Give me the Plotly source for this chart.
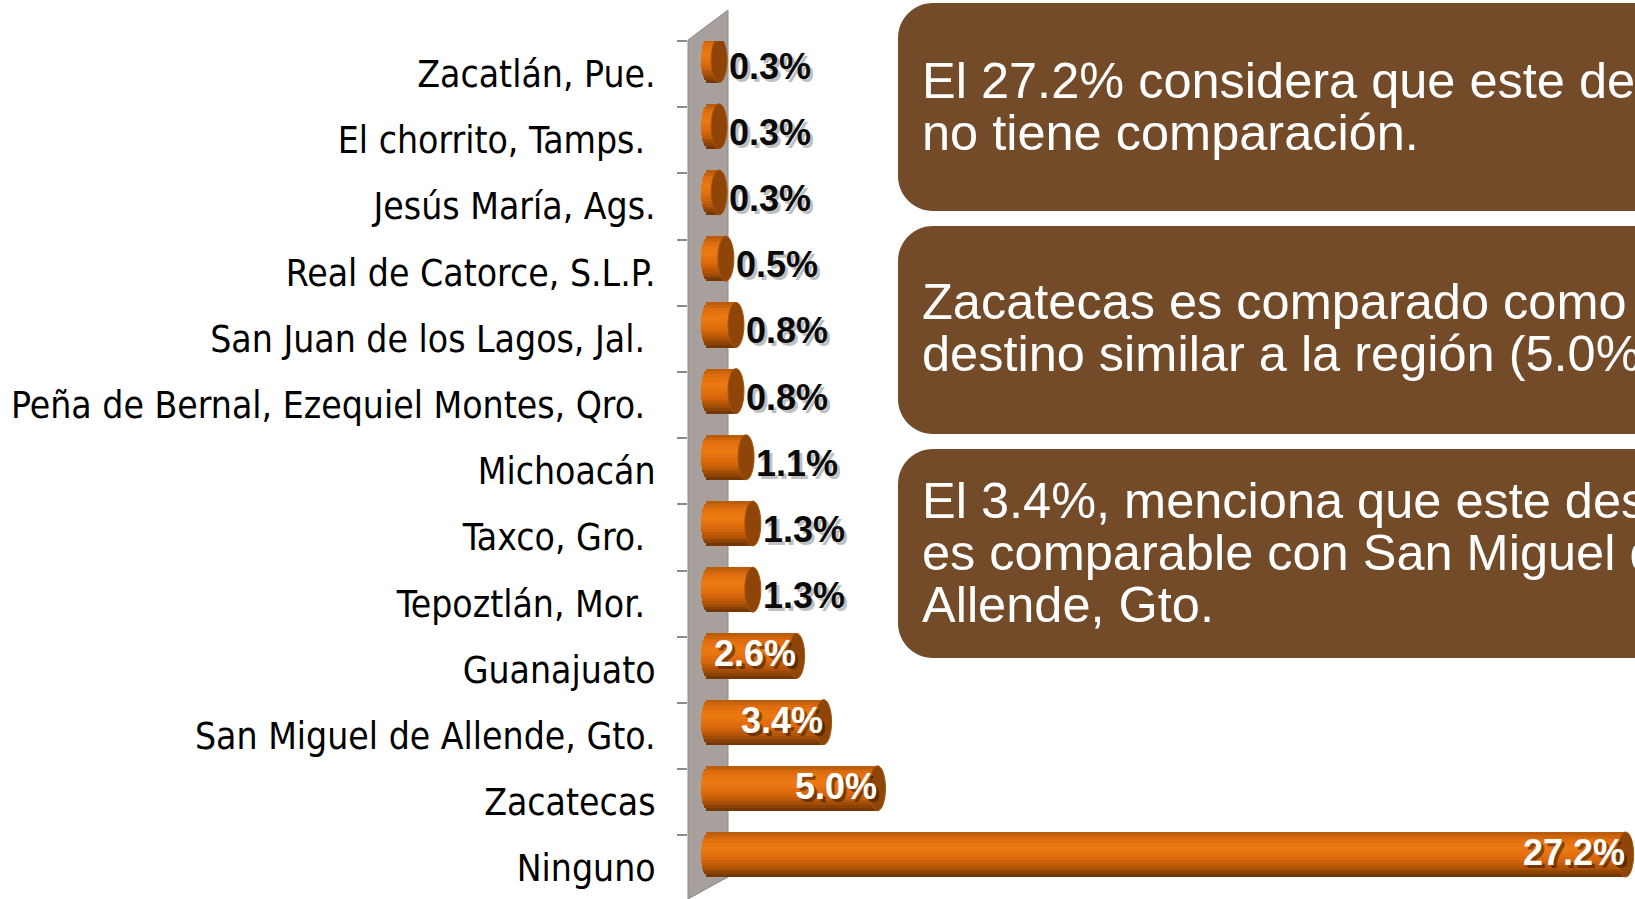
import math
import plotly.graph_objects as go

# ---------------- data ----------------
categories = [
    "Zacatlán, Pue.",
    "El chorrito, Tamps.\u00a0",
    "Jesús María, Ags.",
    "Real de Catorce, S.L.P.",
    "San Juan de los Lagos, Jal.\u00a0",
    "Peña de Bernal, Ezequiel Montes, Qro.\u00a0",
    "Michoacán",
    "Taxco, Gro.\u00a0",
    "Tepoztlán, Mor.\u00a0",
    "Guanajuato",
    "San Miguel de Allende, Gto.",
    "Zacatecas",
    "Ninguno",
]
values = [0.3, 0.3, 0.3, 0.5, 0.8, 0.8, 1.1, 1.3, 1.3, 2.6, 3.4, 5.0, 27.2]
value_labels = [f"{v:.1f}%" for v in values]

box1_lines = ["El 27.2% considera que este destino", "no tiene comparación."]
box2_lines = ["Zacatecas es comparado como", "destino similar a la región (5.0%)."]
box3_lines = ["El 3.4%, menciona que este destino", "es comparable con San Miguel de", "Allende, Gto."]

# ---------------- layout geometry ----------------
W, H = 1635, 899
ML, MT = 688, 41
PW, PH = W - ML, H - MT
PX_PER_UNIT = 33.7      # px per 1 %
ZERO_PX = 709           # pixel of value 0
CAT_PX = 66.2           # px per category
x_range = [(ML - ZERO_PX) / PX_PER_UNIT, (W - ZERO_PX) / PX_PER_UNIT]
y_range = [-0.5 + PH / CAT_PX, -0.5]

SHIFT = 14 / CAT_PX     # 3D perspective shift of bars upward
HALF = 22.5 / CAT_PX    # half bar thickness
RX = 8 / PX_PER_UNIT    # ellipse radius of cylinder caps
INSIDE_MIN = 2.0


def to_paper(px, py):
    return (px - ML) / PW, (H - py) / PH


idx = list(range(len(categories)))
fig = go.Figure()

# cylinder body as gradient stripes
stops = [(-1.0, (180, 89, 10)), (-0.65, (226, 111, 14)), (-0.25, (237, 122, 18)),
         (0.25, (217, 103, 11)), (0.65, (168, 79, 6)), (1.0, (106, 51, 4))]


def color_at(t):
    for (t0, c0), (t1, c1) in zip(stops[:-1], stops[1:]):
        if t0 <= t <= t1:
            f = (t - t0) / (t1 - t0)
            return "rgb(%d,%d,%d)" % tuple(round(a + (b - a) * f) for a, b in zip(c0, c1))
    return "rgb(%d,%d,%d)" % stops[-1][1]


N = 16
for k in range(N):
    t0 = -1 + 2 * k / N
    tm = t0 + 1 / N
    e = RX * math.sqrt(max(0.0, 1 - tm * tm))
    fig.add_trace(go.Bar(
        y=idx, x=[v + e for v in values], base=[-e] * len(values),
        orientation="h", offset=-SHIFT + t0 * HALF, width=2 * HALF / N + 0.004,
        marker=dict(color=color_at(tm), line=dict(width=0)),
        hoverinfo="skip", showlegend=False,
    ))

shapes = []
# side wall of the 3D chart
wall = [to_paper(688, 40), to_paper(728, 10), to_paper(728, 877), to_paper(688, 899)]
shapes.append(dict(
    type="path", xref="paper", yref="paper", layer="below",
    path="M " + " L ".join(f"{x},{y}" for x, y in wall) + " Z",
    fillcolor="#A7A09D", line=dict(color="#8F8986", width=1),
))

# end caps
for i, v in zip(idx, values):
    c = i - SHIFT
    shapes.append(dict(
        type="circle", xref="x", yref="y", layer="above",
        x0=v - RX, x1=v + RX, y0=c - HALF, y1=c + HALF,
        fillcolor="#8E4507", line=dict(color="#A8560C", width=1),
    ))


# rounded brown boxes
def rrect(x0, y0, x1, y1, r):
    k = 0.5523 * r
    pts = []
    P = lambda x, y: "%.5f,%.5f" % to_paper(x, y)
    pts.append("M " + P(x0 + r, y0))
    pts.append("L " + P(x1 - r, y0))
    pts.append("C " + P(x1 - r + k, y0) + " " + P(x1, y0 + r - k) + " " + P(x1, y0 + r))
    pts.append("L " + P(x1, y1 - r))
    pts.append("C " + P(x1, y1 - r + k) + " " + P(x1 - r + k, y1) + " " + P(x1 - r, y1))
    pts.append("L " + P(x0 + r, y1))
    pts.append("C " + P(x0 + r - k, y1) + " " + P(x0, y1 - r + k) + " " + P(x0, y1 - r))
    pts.append("L " + P(x0, y0 + r))
    pts.append("C " + P(x0, y0 + r - k) + " " + P(x0 + r - k, y0) + " " + P(x0 + r, y0))
    return " ".join(pts) + " Z"


boxes = [((3, 211), box1_lines, [98, 150]),
         ((226, 434), box2_lines, [319, 371]),
         ((449, 658), box3_lines, [518, 570, 622])]
BOX_COLOR = "#734B28"
annotations = []
for (by0, by1), lines, baselines in boxes:
    shapes.append(dict(type="path", xref="paper", yref="paper", layer="above",
                       path=rrect(898, by0, 1720, by1, 35),
                       fillcolor=BOX_COLOR, line=dict(width=0)))
    for line, bl in zip(lines, baselines):
        ax, ay = to_paper(920, bl - 17.5)
        annotations.append(dict(
            xref="paper", yref="paper", x=ax, y=ay, xanchor="left", yanchor="middle",
            text=line, showarrow=False,
            font=dict(family="Liberation Sans, Arial", size=50.5, color="white"),
        ))

# value labels with drop shadows
LBL_FONT = "Liberation Sans, Arial"
for i, v, t in zip(idx, values, value_labels):
    if v < INSIDE_MIN:
        base = dict(x=v, y=i, xref="x", yref="y", xanchor="left", yanchor="middle",
                    xshift=8, yshift=8)
        col, shadow = "#0A0A0A", "rgba(0,0,0,0.25)"
    else:
        base = dict(x=v, y=i - SHIFT, xref="x", yref="y", xanchor="right", yanchor="middle",
                    xshift=1, yshift=2)
        col, shadow = "#FFFFFF", "rgba(40,20,0,0.5)"
    sh = dict(base)
    sh["xshift"] = base["xshift"] + 3
    sh["yshift"] = base["yshift"] - 3
    annotations.append(dict(sh, text=f"<b>{t}</b>", showarrow=False,
                            font=dict(family=LBL_FONT, size=36, color=shadow)))
    annotations.append(dict(base, text=f"<b>{t}</b>", showarrow=False,
                            font=dict(family=LBL_FONT, size=36, color=col)))

fig.update_layout(
    width=W, height=H,
    margin=dict(l=ML, r=0, t=MT, b=0, pad=0),
    paper_bgcolor="white", plot_bgcolor="rgba(0,0,0,0)",
    barmode="overlay", bargap=0,
    showlegend=False,
    shapes=shapes, annotations=annotations,
    xaxis=dict(range=x_range, visible=False, showgrid=False, zeroline=False, fixedrange=True),
    yaxis=dict(
        range=y_range, tickmode="array", tickvals=idx, ticktext=categories,
        ticks="outside", ticklen=10, tickcolor="rgba(0,0,0,0)",
        ticklabelstandoff=14,
        minor=dict(tickmode="array", tickvals=[i - 0.5 for i in idx], ticks="outside",
                   ticklen=10, tickcolor="#8A8A8A", tickwidth=1.5, showgrid=False),
        showgrid=False, zeroline=False, showline=False, automargin=False,
        tickfont=dict(family="DejaVu Sans Condensed, DejaVu Sans", size=37, color="#000000"),
        fixedrange=True,
    ),
    template="none",
)

fig.write_html("out.html", config={"displayModeBar": False},
               post_script="document.body.style.margin='0';document.body.style.overflow='hidden';")
